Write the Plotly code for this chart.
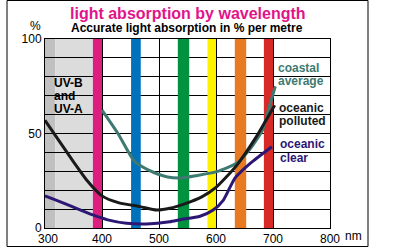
import plotly.graph_objects as go

# ---- data ----
polluted_wl = [300, 325, 350, 373, 400, 430, 467, 496, 519, 545, 575, 600, 636, 668, 703]
polluted_val = [57, 46, 35, 25.4, 17, 13.3, 11.3, 9.5, 10.4, 12.8, 16.5, 21.5, 33, 47, 65]

coastal_wl = [400, 428, 455, 470, 490, 515, 540, 566, 601, 636, 655, 671, 682, 692, 704]
coastal_val = [62.4, 50, 36, 32.5, 29.5, 27, 26.5, 27.7, 29.8, 34.2, 40, 46.6, 52, 62.4, 75]

clear_wl = [300, 326, 350, 384, 410, 443, 478, 519, 537, 572, 595, 613, 633, 660, 698]
clear_val = [17, 14, 11, 6.9, 4.3, 2.5, 2.1, 3.3, 4.4, 6.2, 9.5, 14.8, 26.3, 34.2, 43]

uv_regions = [(300, 318, "#C0C0C0"), (318, 384, "#DCDCDC")]
bands = [(384, 400, "#DC1F7F"), (451, 468, "#0072BC"), (533, 553, "#00923F"),
         (585, 600, "#FFF200"), (633, 653, "#E87A22"), (684, 700, "#D72A26")]

x_ticks = [300, 400, 500, 600, 700, 800]
x_labels = ["\u2002300", "400", "500", "600", "700", "800"]
y_ticks = [0, 50, 100]
y_labels = ["0", "50", "100"]

C_TEAL = "#3E7A72"
C_BLACK = "#1A1A1A"
C_INDIGO = "#2D1775"
FONT = "Liberation Sans, Arial, sans-serif"

fig = go.Figure()

for wl, val, col in [(coastal_wl, coastal_val, C_TEAL),
                     (polluted_wl, polluted_val, C_BLACK),
                     (clear_wl, clear_val, C_INDIGO)]:
    fig.add_trace(go.Scatter(x=wl, y=val, mode="lines",
                             line=dict(color=col, width=3, shape="spline", smoothing=0.6),
                             showlegend=False, hoverinfo="skip"))

shapes = []
for x0, x1, col in uv_regions:
    shapes.append(dict(type="rect", xref="x", yref="y", x0=x0, x1=x1, y0=0, y1=100,
                       fillcolor=col, line=dict(width=0), layer="below"))
for x0, x1, col in bands:
    shapes.append(dict(type="rect", xref="x", yref="y", x0=x0, x1=x1, y0=0, y1=100,
                       fillcolor=col, line=dict(width=0), layer="between"))
# outer frame
shapes.append(dict(type="rect", xref="paper", yref="paper",
                   x0=(7 - 45) / 285, x1=(368 - 45) / 285,
                   y0=(228 - 246.5) / 189, y1=(228 - 0.5) / 189,
                   line=dict(color="black", width=1), fillcolor="rgba(0,0,0,0)", layer="above"))

ann = []
def label(text, x, y, col, bold=True, xanchor="left", xref="x", yref="y", size=12):
    ann.append(dict(text=f"<b>{text}</b>" if bold else text, x=x, y=y, xref=xref, yref=yref,
                    xanchor=xanchor, yanchor="middle", showarrow=False,
                    font=dict(family=FONT, size=size, color=col)))

label("UV-B", 312, 76.9, "black")
label("and", 312, 69.8, "black")
label("UV-A", 312, 62.8, "black")
label("coastal", 706, 84.8, C_TEAL)
label("average", 706, 77.8, C_TEAL)
label("oceanic", 707, 63.7, C_BLACK)
label("polluted", 707, 56.6, C_BLACK)
label("oceanic", 708, 44.3, C_INDIGO)
label("clear", 708, 37.2, C_INDIGO)

# titles
label("light absorption by wavelength", (188 - 45) / 285, (228 - 14) / 189, "#E2138A",
      xanchor="center", xref="paper", yref="paper", size=16)
label("Accurate light absorption in % per metre", (187 - 45) / 285, (228 - 28) / 189, "black",
      xanchor="center", xref="paper", yref="paper", size=12)
label("%", (35 - 45) / 285, (228 - 25.5) / 189, "black", bold=False,
      xanchor="center", xref="paper", yref="paper", size=12)
label("nm", (343 - 45) / 285, (228 - 236) / 189, "black", bold=False,
      xanchor="left", xref="paper", yref="paper", size=12)

fig.update_layout(
    width=400, height=248,
    margin=dict(l=45, r=70, t=39, b=20, pad=0, autoexpand=False),
    paper_bgcolor="white", plot_bgcolor="white",
    shapes=shapes, annotations=ann,
    font=dict(family=FONT, size=12, color="black"),
    xaxis=dict(range=[300, 800], tickvals=x_ticks, ticktext=x_labels,
               showgrid=True, gridcolor="black", gridwidth=1,
               showline=True, linecolor="black", linewidth=1, mirror=True,
               ticks="", zeroline=False, tickfont=dict(size=12),
               automargin=False, ticklabelstandoff=0),
    yaxis=dict(range=[0, 100], tickvals=y_ticks, ticktext=y_labels,
               showgrid=True, gridcolor="black", gridwidth=1,
               minor=dict(dtick=10, showgrid=True, gridcolor="black", gridwidth=1),
               showline=True, linecolor="black", linewidth=1, mirror=True,
               ticks="", zeroline=False, tickfont=dict(size=12),
               automargin=False),
)

fig.write_html("out.html")
